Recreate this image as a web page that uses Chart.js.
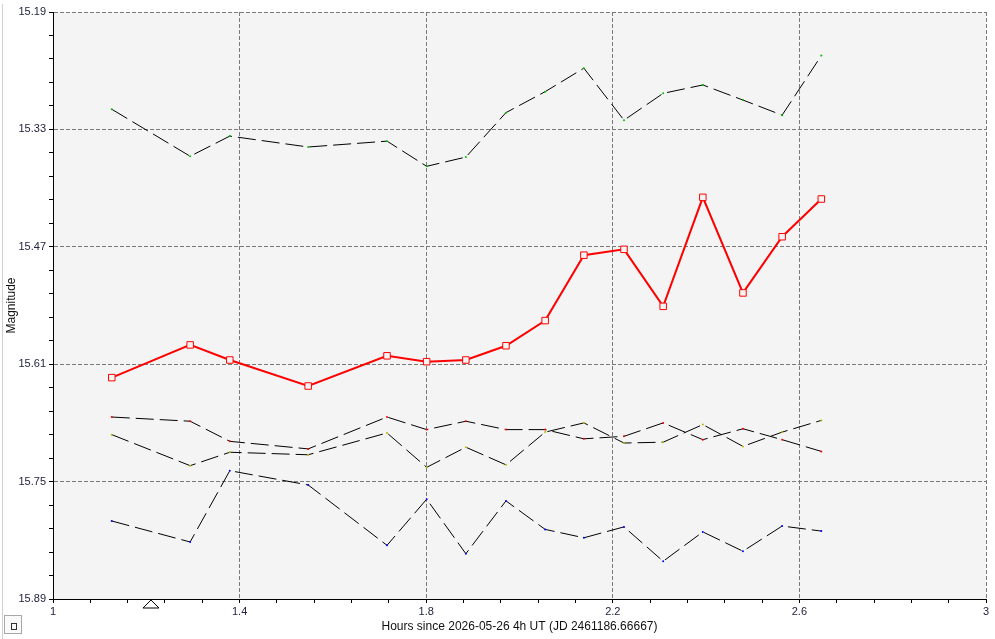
<!DOCTYPE html>
<html>
<head>
<meta charset="utf-8">
<script src="https://cdn.jsdelivr.net/npm/chart.js@4.4.1/dist/chart.umd.min.js"></script>
<style>
  html, body { margin: 0; padding: 0; background: #ffffff; }
  #wrap { position: relative; width: 995px; height: 639px; overflow: hidden; }
  #leftline { position: absolute; left: 2px; top: 4px; width: 1px; height: 635px; background: #d0d0d0; }
  #btn { position: absolute; left: 4px; top: 615px; width: 16px; height: 17px; border: 1px solid #a8a8a8; background: #fafafa; box-sizing: content-box; }
  #btn div { position: absolute; left: 6px; top: 7px; width: 4px; height: 5px; border: 1px solid #333; }
  canvas { position: absolute; left: 0; top: 0; }
</style>
</head>
<body>
<div id="wrap">
  <canvas id="c" width="995" height="639"></canvas>
  <div id="leftline"></div>
  <div id="btn"><div></div></div>
</div>
<script>
// ---- data ----
const hours = [1.126, 1.294, 1.379, 1.547, 1.716, 1.801, 1.885, 1.971, 2.055, 2.138, 2.224, 2.308, 2.393, 2.479, 2.563, 2.647];
const varMag = [15.626, 15.587, 15.605, 15.636, 15.600, 15.607, 15.605, 15.588, 15.558, 15.480, 15.473, 15.541, 15.411, 15.525, 15.458, 15.413];
const compGreen = [15.306, 15.362, 15.338, 15.351, 15.344, 15.374, 15.363, 15.310, 15.285, 15.257, 15.319, 15.287, 15.277, 15.295, 15.313, 15.242];
const compRed = [15.673, 15.678, 15.702, 15.711, 15.673, 15.688, 15.678, 15.688, 15.688, 15.699, 15.696, 15.680, 15.700, 15.687, 15.700, 15.714];
const compYellow = [15.694, 15.731, 15.715, 15.718, 15.692, 15.733, 15.709, 15.730, 15.691, 15.680, 15.704, 15.703, 15.682, 15.708, 15.691, 15.677];
const compBlue = [15.797, 15.822, 15.737, 15.754, 15.826, 15.771, 15.836, 15.773, 15.807, 15.817, 15.804, 15.845, 15.810, 15.833, 15.803, 15.809];

const xTickLabels = ['1', '1.4', '1.8', '2.2', '2.6', '3'];
const yTickLabels = ['15.19', '15.33', '15.47', '15.61', '15.75', '15.89'];
const markerHour = [1.21];

const xTitle = 'Hours since 2026-05-26 4h UT (JD 2461186.66667)';
const yTitle = 'Magnitude';

// ---- helpers ----
function pts(ys) { return hours.map((h, i) => ({ x: h, y: ys[i] })); }
function buildTicks(labels, sub) {
  const vals = labels.map(Number);
  const out = [];
  for (let i = 0; i < vals.length; i++) {
    out.push({ value: vals[i], lbl: labels[i] });
    if (i < vals.length - 1) {
      const step = (vals[i + 1] - vals[i]) / sub;
      for (let k = 1; k < sub; k++) out.push({ value: vals[i] + k * step, lbl: '' });
    }
  }
  return out;
}
const xTicks = buildTicks(xTickLabels, 5);
const yTicks = buildTicks(yTickLabels, 5);

function compSet(ys, dot) {
  return {
    data: pts(ys),
    borderColor: '#000000',
    borderWidth: 1,
    borderDash: [18, 6],
    pointRadius: 1,
    pointBorderWidth: 0,
    pointBackgroundColor: dot,
    showLine: true,
    tension: 0,
    fill: false
  };
}

const bgPlugin = {
  id: 'plotbg',
  beforeDraw(chart) {
    const { ctx, chartArea: a } = chart;
    ctx.save();
    ctx.fillStyle = '#f4f4f4';
    ctx.fillRect(a.left, a.top, a.right - a.left, a.bottom - a.top);
    ctx.restore();
  }
};
const markerPlugin = {
  id: 'marker',
  afterDraw(chart) {
    const { ctx, chartArea: a } = chart;
    const xs = chart.scales.x;
    markerHour.forEach(h => {
      const px = xs.getPixelForValue(h);
      ctx.save();
      ctx.beginPath();
      ctx.moveTo(px, a.bottom + 1);
      ctx.lineTo(px + 8, a.bottom + 9);
      ctx.lineTo(px - 8, a.bottom + 9);
      ctx.closePath();
      ctx.fillStyle = '#ffffff';
      ctx.fill();
      ctx.strokeStyle = '#000000';
      ctx.lineWidth = 1;
      ctx.stroke();
      ctx.restore();
    });
  }
};

const tickFont = { family: 'Liberation Sans, Arial, sans-serif', size: 11 };
const titleFont = { family: 'Liberation Sans, Arial, sans-serif', size: 12 };

new Chart(document.getElementById('c'), {
  type: 'line',
  data: {
    datasets: [
      {
        data: pts(varMag),
        borderColor: '#ff0000',
        borderWidth: 2,
        pointStyle: 'rect',
        pointRadius: 4.6,
        pointBorderWidth: 1,
        pointBorderColor: '#ff0000',
        pointBackgroundColor: '#f4f4f4',
        showLine: true,
        tension: 0,
        fill: false
      },
      compSet(compGreen, '#00c000'),
      compSet(compRed, '#ff0000'),
      compSet(compYellow, '#b8b800'),
      compSet(compBlue, '#0000ff')
    ]
  },
  options: {
    responsive: false,
    animation: false,
    layout: { padding: { top: 12, right: 9, left: 0, bottom: 0 } },
    plugins: { legend: { display: false }, tooltip: { enabled: false } },
    scales: {
      x: {
        type: 'linear',
        min: 1, max: 3,
        afterFit(s) { s.height = 40; },
        afterBuildTicks(s) { s.ticks = xTicks.map(t => ({ value: t.value, lbl: t.lbl })); },
        ticks: {
          autoSkip: false, maxRotation: 0, padding: 2,
          font: tickFont, color: '#23233f',
          callback(v, i, t) { return t[i].lbl; }
        },
        grid: {
          color(c) { return c.tick && c.tick.lbl ? '#7a7a7a' : 'rgba(0,0,0,0)'; },
          tickColor: '#000000', tickLength: 4, lineWidth: 1
        },
        border: { display: true, color: '#000000', width: 1, dash: [4, 2] },
        title: { display: true, text: xTitle, font: titleFont, color: '#111111', padding: { top: 0, bottom: 5 } }
      },
      y: {
        type: 'linear',
        min: 15.19, max: 15.89,
        reverse: true,
        afterFit(s) { s.width = 53; },
        afterBuildTicks(s) { s.ticks = yTicks.map(t => ({ value: t.value, lbl: t.lbl })); },
        ticks: {
          autoSkip: false, padding: 3,
          font: tickFont, color: '#23233f',
          callback(v, i, t) { return t[i].lbl; }
        },
        grid: {
          color(c) { return c.tick && c.tick.lbl ? '#7a7a7a' : 'rgba(0,0,0,0)'; },
          tickColor: '#000000', tickLength: 4, lineWidth: 1
        },
        border: { display: true, color: '#000000', width: 1, dash: [4, 2] },
        title: { display: true, text: yTitle, font: titleFont, color: '#111111', padding: { top: 4, bottom: 0 } }
      }
    }
  },
  plugins: [bgPlugin, markerPlugin]
});
</script>
</body>
</html>
